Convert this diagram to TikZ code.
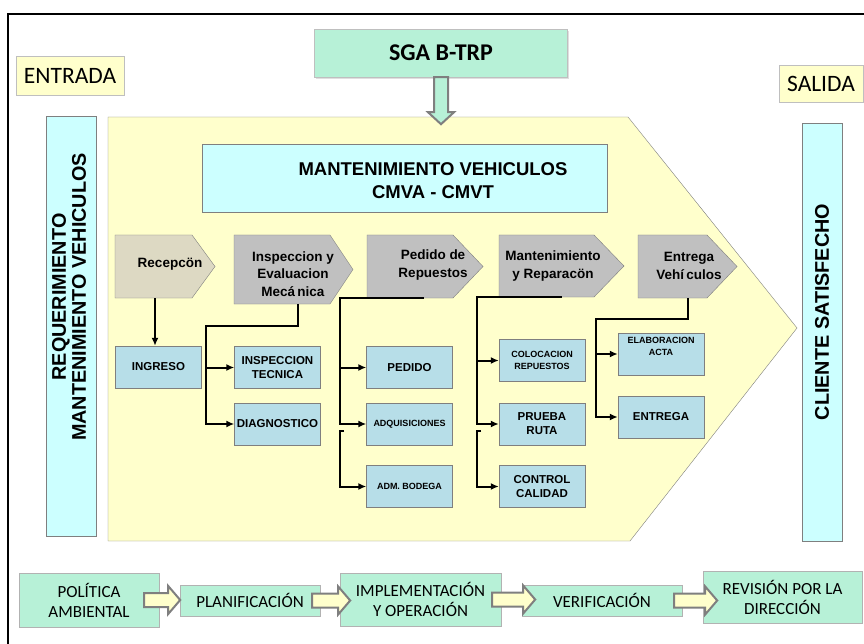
\documentclass[tikz,border=0pt]{standalone}
\usepackage{fontspec}
\setmainfont{Carlito}
\newfontfamily\arialfont{Liberation Sans}
\usetikzlibrary{shadows,arrows.meta}

\definecolor{paleyellow}{HTML}{FFFFCC}
\definecolor{palecyan}{HTML}{CCFFFF}
\definecolor{stepgray}{HTML}{C0C0C0}
\definecolor{stepbeige}{HTML}{DDD9C3}
\definecolor{taskblue}{HTML}{B7DEE8}
\definecolor{mint}{HTML}{B7F1D7}
\definecolor{edgegray}{HTML}{7F7F7F}

\tikzset{
  stepshape/.style={draw=edgegray, fill=stepgray},
  steplabel/.style={align=center, inner sep=0pt, font=\arialfont\bfseries\fontsize{13.5}{17.5}\selectfont},
  taskbox/.style={draw=edgegray, fill=taskblue, minimum width=86, minimum height=42, inner sep=1pt, align=center, font=\arialfont\bfseries\fontsize{11.5}{14}\selectfont},
  smalltask/.style={taskbox, font=\arialfont\bfseries\fontsize{9}{12}\selectfont},
  link/.style={line width=2pt, -{Latex[length=8pt,width=7pt]}},
  pdcabox/.style={draw=gray!60, fill=mint, align=center, inner sep=1pt, font=\fontsize{17}{20}\selectfont},
  bigarrow/.style={draw=edgegray, line width=2pt, fill=paleyellow},
  sidelabel/.style={draw=gray!50, fill=paleyellow, font=\fontsize{23.5}{26}\selectfont},
  tallbox/.style={draw=edgegray, fill=palecyan},
  talltext/.style={align=center, inner sep=0pt, font=\arialfont\bfseries\fontsize{19.8}{20}\selectfont}
}

\begin{document}
\begin{tikzpicture}[x=1pt, y=-1pt]
    \useasboundingbox (0,0) rectangle (864,644);
    \draw[line width=1.6pt] (8,644) -- (8,14) -- (864,14);

    % entrada, salida y sistema de gestion
    \node[sidelabel, minimum width=108, minimum height=39] (entrada) at (70,75.5) {ENTRADA};
    \node[sidelabel, minimum width=84, minimum height=37] (salida) at (821,83.5) {SALIDA};
    \node[draw=gray!50, fill=mint, minimum width=253, minimum height=48,
          drop shadow={opacity=0.25, shadow xshift=1pt, shadow yshift=-2pt},
          font=\bfseries\fontsize{24}{26}\selectfont] (sga) at (441,53) {SGA B-TRP};

    % area del proceso
    \draw[draw=edgegray, fill=paleyellow] (108,117) -- (628,117) -- (797,328) -- (630,541) -- (108,541) -- cycle;
    \draw[bigarrow, fill=mint] ([xshift=-7pt]sga.south) -- ++(0,35) -- ++(-6,0) -- ++(13,12)
          -- ++(13,-12) -- ++(-6,0) -- ++(0,-35) -- cycle;

    \node[tallbox, minimum width=420, minimum height=50, rotate=90] (req) at (71,326) {};
    \node[talltext, rotate=90] (reqtext) at (69,297) {REQUERIMIENTO\\MANTENIMIENTO VEHICULOS};
    \node[tallbox, minimum width=418, minimum height=40, rotate=90] (cliente) at (822,332) {};
    \node[talltext, rotate=90] (clientetext) at (822,312) {CLIENTE SATISFECHO};

    \node[tallbox, minimum width=405, minimum height=68] (mant) at (404.5,178) {};
    \node[talltext, font=\arialfont\bfseries\fontsize{18.5}{23}\selectfont] (manttext) at (433,181)
          {MANTENIMIENTO VEHICULOS\\CMVA - CMVT};

    % etapas
    \draw[stepshape, fill=stepbeige] (115,235) -- (192,235) -- (215,266.5) -- (192,298) -- (115,298) -- cycle;
    \draw[stepshape] (234,235) -- (330,235) -- (353,269.5) -- (330,304) -- (234,304) -- cycle;
    \draw[stepshape] (367,235) -- (453,235) -- (483,266.5) -- (453,298) -- (367,298) -- cycle;
    \draw[stepshape] (499,235) -- (594,235) -- (624,266) -- (594,297) -- (499,297) -- cycle;
    \draw[stepshape] (638,235) -- (707,235) -- (737,266.5) -- (707,298) -- (638,298) -- cycle;
    \begin{scope}[every node/.style={steplabel}]
    \node (recep) at (170,264) {Recepcön};
    \node (insp) at (293,274) {Inspeccion y\\Evaluacion\\Mecá\,nica};
    \node (ped) at (433,265) {Pedido de\\Repuestos};
    \node (man) at (553,266) {Mantenimiento\\y Reparacön};
    \node (ent) at (689,266) {Entrega\\Vehí\,culos};
    \end{scope}

    % actividades
    \node[taskbox] (ingreso) at (158.5,367) {INGRESO};
    \node[taskbox] (insptec) at (277.5,367.5) {INSPECCION\\TECNICA};
    \node[taskbox] (diag) at (277.5,424) {DIAGNOSTICO};
    \node[taskbox] (pedbox) at (409.5,367.5) {PEDIDO};
    \node[smalltask] (adq) at (409.5,424) {ADQUISICIONES};
    \node[smalltask] (bodega) at (409.5,486.5) {ADM. BODEGA};
    \node[smalltask] (coloc) at (542,360.5) {COLOCACION\\REPUESTOS};
    \node[taskbox] (prueba) at (542,424) {PRUEBA\\RUTA};
    \node[taskbox] (control) at (542,486.5) {CONTROL\\CALIDAD};
    \node[smalltask] (elab) at (661,354) {ELABORACION\\ACTA\\[4pt]};
    \node[taskbox] (entbox) at (661,417) {ENTREGA};

    % conexiones
    \coordinate (recep-b) at (155,298);
    \coordinate (insp-b) at (298,304);
    \coordinate (insp-k) at (206,326);
    \coordinate (ped-b) at (424,298);
    \coordinate (ped-k) at (340,298);
    \coordinate (ped-s) at (344,431);
    \coordinate (man-b) at (562,297);
    \coordinate (man-k) at (477,297);
    \coordinate (man-s) at (481,431);
    \coordinate (ent-b) at (688,298);
    \coordinate (ent-k) at (596,319);

    \draw[link] (recep-b) -- (recep-b |- ingreso.north);
    \draw[link] (insp-b) |- (insp-k) |- (diag.west);
    \draw[link] (insp-k |- insptec.west) -- (insptec.west);
    \draw[link] (ped-b) -- (ped-k) |- (adq.west);
    \draw[link] (ped-k |- pedbox.west) -- (pedbox.west);
    \draw[link] (ped-s) -- (ped-k |- ped-s) |- (bodega.west);
    \draw[link] (man-b) -- (man-k) |- (prueba.west);
    \draw[link] (man-k |- coloc.west) -- (coloc.west);
    \draw[link] (man-s) -- (man-k |- man-s) |- (control.west);
    \draw[link] (ent-b) |- (ent-k) |- (entbox.west);
    \draw[link] (ent-k |- elab.west) -- (elab.west);

    % ciclo de mejora
    \node[pdcabox, minimum width=140, minimum height=54] (politica) at (89,600) {POLÍTICA\\AMBIENTAL};
    \node[pdcabox, minimum width=140, minimum height=31] (planif) at (250,600.5) {PLANIFICACIÓN};
    \node[pdcabox, minimum width=161, minimum height=53] (implem) at (420.5,599.5) {IMPLEMENTACIÓN\\Y OPERACIÓN};
    \node[pdcabox, minimum width=160, minimum height=31] (verif) at (602,600.5) {VERIFICACIÓN};
    \node[pdcabox, minimum width=159, minimum height=52] (revision) at (782.5,597) {REVISIÓN POR LA\\DIRECCIÓN};

    \draw[bigarrow] ([xshift=-15pt]politica.east) ++(0,-7) -- ++(24,0) -- ++(0,-7) -- ++(12,14)
          -- ++(-12,14) -- ++(0,-7) -- ++(-24,0) -- cycle;
    \draw[bigarrow] ([xshift=-8pt]planif.east) ++(0,-7) -- ++(26,0) -- ++(0,-7) -- ++(12,14)
          -- ++(-12,14) -- ++(0,-7) -- ++(-26,0) -- cycle;
    \draw[bigarrow] ([xshift=-9pt]implem.east) ++(0,-7) -- ++(31,0) -- ++(0,-7) -- ++(12,14)
          -- ++(-12,14) -- ++(0,-7) -- ++(-31,0) -- cycle;
    \draw[bigarrow] ([xshift=-8pt]verif.east) ++(0,-7) -- ++(31,0) -- ++(0,-7) -- ++(12,14)
          -- ++(-12,14) -- ++(0,-7) -- ++(-31,0) -- cycle;
\end{tikzpicture}
\end{document}
